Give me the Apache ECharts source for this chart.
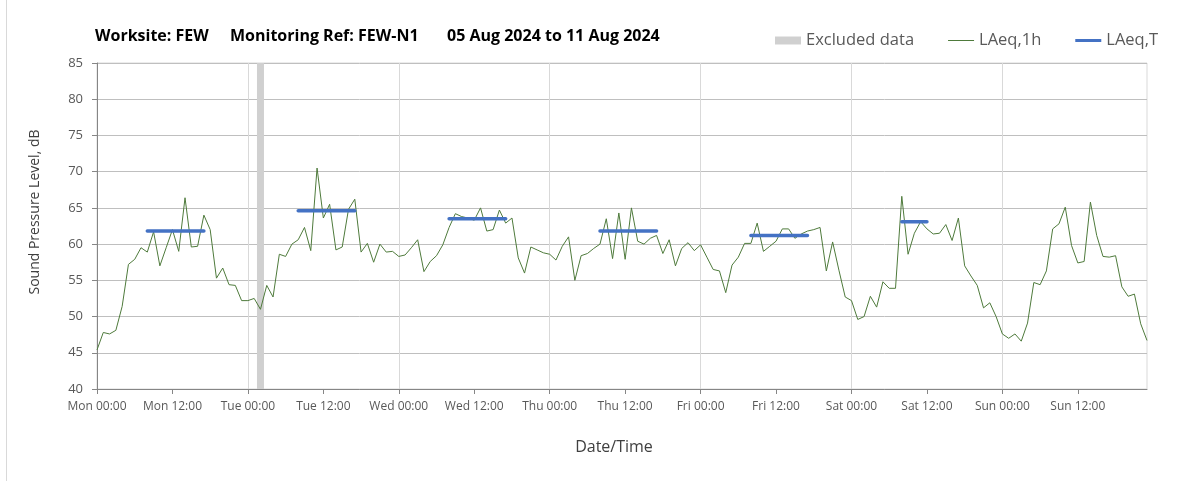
<!DOCTYPE html>
<html>
<head>
<meta charset="utf-8">
<script src="https://cdn.jsdelivr.net/npm/echarts@6/dist/echarts.min.js"></script>
<style>
    html, body { margin: 0; padding: 0; background: #fff; }
    #chart { width: 1203px; height: 481px; }
</style>
</head>
<body>
<div id="chart"></div>
<script>
    // axis labels
    var dayNames = ['Mon', 'Tue', 'Wed', 'Thu', 'Fri', 'Sat', 'Sun'];
    var hourNames = ['00:00', '01:00', '02:00', '03:00', '04:00', '05:00', '06:00', '07:00',
        '08:00', '09:00', '10:00', '11:00', '12:00', '13:00', '14:00', '15:00',
        '16:00', '17:00', '18:00', '19:00', '20:00', '21:00', '22:00', '23:00'];

    // LAeq,1h - one value per hour, Mon 00:00 .. Sun 23:00
    var laeq1hMon = [45.4, 47.8, 47.6, 48.1, 51.4, 57.2, 57.9, 59.5, 58.9, 61.7, 57.0, 59.5,
        62.0, 59.0, 66.4, 59.6, 59.7, 64.0, 62.0, 55.3, 56.7, 54.4, 54.3, 52.2];
    var laeq1hTue = [52.2, 52.5, 51.0, 54.3, 52.7, 58.6, 58.3, 60.0, 60.6, 62.3, 59.1, 70.5,
        63.6, 65.5, 59.2, 59.6, 64.8, 66.2, 58.9, 60.1, 57.5, 60.0, 58.9, 59.0];
    var laeq1hWed = [58.3, 58.5, 59.5, 60.6, 56.2, 57.6, 58.4, 59.9, 62.3, 64.2, 63.8, 63.6,
        63.3, 65.0, 61.8, 62.0, 64.7, 62.9, 63.6, 58.1, 56.0, 59.6, 59.2, 58.8];
    var laeq1hThu = [58.6, 57.8, 59.7, 61.0, 55.0, 58.4, 58.7, 59.4, 60.0, 63.5, 58.0, 64.3,
        57.9, 65.0, 60.4, 60.0, 60.8, 61.2, 58.7, 60.6, 57.0, 59.4, 60.2, 59.1];
    var laeq1hFri = [59.9, 58.2, 56.5, 56.3, 53.3, 57.1, 58.2, 60.1, 60.1, 62.9, 59.0, 59.7,
        60.4, 62.1, 62.1, 60.8, 61.4, 61.8, 62.0, 62.3, 56.3, 60.3, 56.4, 52.7];
    var laeq1hSat = [52.2, 49.6, 50.0, 52.8, 51.3, 54.8, 53.9, 53.9, 66.6, 58.6, 61.5, 63.1,
        62.1, 61.4, 61.5, 62.7, 60.5, 63.6, 57.0, 55.6, 54.3, 51.2, 51.9, 50.0];
    var laeq1hSun = [47.6, 47.0, 47.6, 46.6, 49.1, 54.7, 54.4, 56.3, 62.1, 62.8, 65.1, 59.8,
        57.4, 57.6, 65.8, 61.2, 58.3, 58.2, 58.4, 54.1, 52.8, 53.1, 49.0, 46.7];

    // LAeq,T daytime periods
    var laeqTStart = ['Mon 08:00', 'Tue 08:00', 'Wed 08:00', 'Thu 08:00', 'Fri 08:00', 'Sat 08:00'];
    var laeqTEnd = ['Mon 17:00', 'Tue 17:00', 'Wed 17:00', 'Thu 17:00', 'Fri 17:00', 'Sat 12:00'];
    var laeqTValue = [61.8, 64.6, 63.5, 61.8, 61.2, 63.1];

    // excluded hours
    var excludedHours = ['Tue 02:00'];

    var categories = [];
    dayNames.forEach(function (d) {
        hourNames.forEach(function (h) { categories.push(d + ' ' + h); });
    });
    var laeq1h = [].concat(laeq1hMon, laeq1hTue, laeq1hWed, laeq1hThu, laeq1hFri, laeq1hSat, laeq1hSun);

    var laeqT = categories.map(function () { return null; });
    laeqTStart.forEach(function (s, i) {
        var a = categories.indexOf(s), b = categories.indexOf(laeqTEnd[i]);
        for (var k = a; k <= b; k++) laeqT[k] = laeqTValue[i];
    });

    var excluded = categories.map(function (c) {
        return excludedHours.indexOf(c) >= 0 ? 85 : '-';
    });

    var font = 'Open Sans';
    var titleFont = 'bold 16px "Open Sans"';
    var chart = echarts.init(document.getElementById('chart'));
    chart.setOption({
        animation: false,
        textStyle: { fontFamily: font },
        grid: {
            left: 97, right: 56, top: 63, bottom: 92,
            show: true, borderColor: '#d9d9d9', borderWidth: 1
        },
        legend: {
            left: 770, top: 27,
            itemWidth: 26, itemHeight: 8, itemGap: 34,
            textStyle: { fontFamily: font, fontSize: 16.5, color: '#595959' },
            data: [
                { name: 'Excluded data', icon: 'rect' },
                { name: 'LAeq,1h', icon: 'path://M0,0H26V1H0Z' },
                { name: 'LAeq,T', icon: 'path://M0,0H26V3H0Z' }
            ]
        },
        graphic: [
            { type: 'line', shape: { x1: 6.5, y1: 0, x2: 6.5, y2: 481 }, style: { stroke: '#d9d9d9', lineWidth: 1 } },
            { type: 'text', left: 95, top: 28, style: { text: 'Worksite: FEW', font: titleFont, fill: '#000' } },
            { type: 'text', left: 230, top: 28, style: { text: 'Monitoring Ref: FEW-N1', font: titleFont, fill: '#000' } },
            { type: 'text', left: 447, top: 28, style: { text: '05 Aug 2024 to 11 Aug 2024', font: titleFont, fill: '#000' } },
            {
                type: 'text', x: 35, y: 212, rotation: Math.PI / 2,
                style: { text: 'Sound Pressure Level, dB', font: '14px "Open Sans"', fill: '#404040', align: 'center', verticalAlign: 'middle' }
            },
            {
                type: 'text', x: 614, y: 447,
                style: { text: 'Date/Time', font: '16px "Open Sans"', fill: '#404040', align: 'center', verticalAlign: 'middle' }
            }
        ],
        xAxis: {
            type: 'category',
            data: categories,
            boundaryGap: false,
            axisLine: { lineStyle: { color: '#868686' } },
            axisTick: { interval: 11, length: 5, lineStyle: { color: '#868686' } },
            axisLabel: { interval: 11, margin: 12, fontSize: 12, color: '#595959', fontFamily: font },
            splitLine: {
                show: true,
                interval: function (index) { return index > 0 && index % 24 === 0; },
                lineStyle: { color: '#d9d9d9' }
            }
        },
        yAxis: {
            type: 'value',
            min: 40, max: 85, interval: 5,
            axisLine: { show: true, lineStyle: { color: '#868686' } },
            axisTick: { show: true, length: 5, lineStyle: { color: '#868686' } },
            axisLabel: { margin: 14, fontSize: 13, color: '#595959', fontFamily: font },
            splitLine: { lineStyle: { color: '#bfbfbf' } }
        },
        series: [
            {
                name: 'Excluded data',
                type: 'bar',
                data: excluded,
                barWidth: 7,
                itemStyle: { color: '#d0d0d0' },
                silent: true,
                z: 1
            },
            {
                name: 'LAeq,1h',
                type: 'line',
                data: laeq1h,
                symbol: 'none',
                lineStyle: { color: '#4e7a3b', width: 1 },
                itemStyle: { color: '#4e7a3b' },
                z: 3
            },
            {
                name: 'LAeq,T',
                type: 'line',
                data: laeqT,
                symbol: 'none',
                connectNulls: false,
                lineStyle: { color: '#4472c4', width: 3.5, cap: 'round' },
                itemStyle: { color: '#4472c4' },
                z: 4
            }
        ]
    });
</script>
</body>
</html>
